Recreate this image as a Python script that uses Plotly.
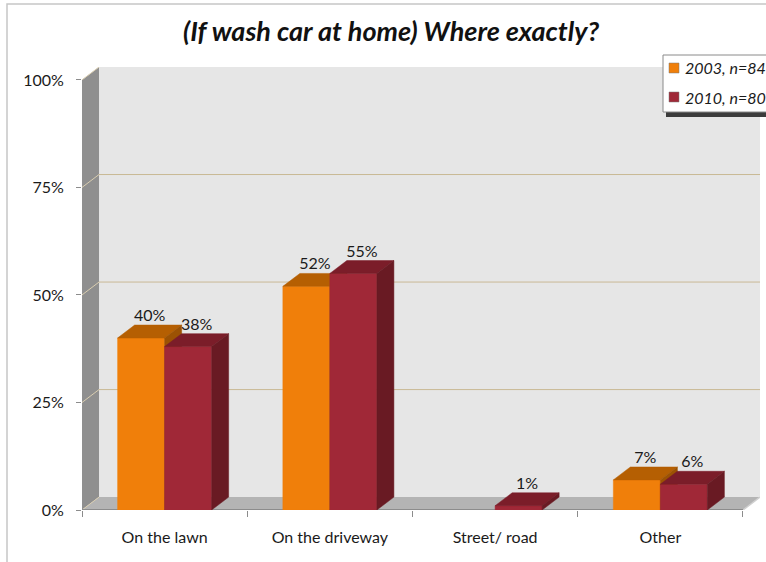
import plotly.graph_objects as go

# ---- data ----
categories = ["On the lawn", "On the driveway", "Street/ road", "Other"]
series_names = ["2003, n=84", "2010, n=80"]
values_2003 = [40, 52, None, 7]
values_2010 = [38, 55, 1, 6]
y_tick_values = [0, 25, 50, 75, 100]
y_tick_labels = ["0%", "25%", "50%", "75%", "100%"]
title_text = "(If wash car at home) Where exactly?"

# ---- styling ----
FONT = "Lato"
W, H = 766, 562
ML, MR, MT, MB = 82, 6, 67, 52
DX = 0.103      # depth offset along x (category units)
DY = 3.0        # depth offset along y (percent units)
BW = 0.2845     # bar width (category units)

front_colors = ["#F07F0A", "#A02837"]
top_colors = ["#B55F02", "#7B1D29"]
side_colors = ["#9C5203", "#691A23"]

X_MIN, X_MAX = -0.5, len(categories) - 0.5
plot_w = W - ML - MR
plot_h = H - MT - MB


def px_x(p):
    return (p - ML) / plot_w


def px_y(p):
    return (H - MB - p) / plot_h


fig = go.Figure()

series_values = [values_2003, values_2010]
offsets = [-BW, 0.0]

# 3D bars: front, top and side faces drawn back-to-front per series
for s, vals in enumerate(series_values):
    fx, fy, tx, ty, sx, sy = [], [], [], [], [], []
    for i, v in enumerate(vals):
        if v is None:
            continue
        x0 = i + offsets[s]
        x1 = x0 + BW
        fx += [x0, x1, x1, x0, x0, None]
        fy += [0, 0, v, v, 0, None]
        tx += [x0, x1, x1 + DX, x0 + DX, x0, None]
        ty += [v, v, v + DY, v + DY, v, None]
        sx += [x1, x1 + DX, x1 + DX, x1, x1, None]
        sy += [0, DY, v + DY, v, 0, None]
    for xs, ys, col in ((fx, fy, front_colors[s]),
                        (tx, ty, top_colors[s]),
                        (sx, sy, side_colors[s])):
        fig.add_trace(go.Scatter(
            x=xs, y=ys, mode="lines", fill="toself", fillcolor=col,
            line=dict(color=col, width=0.5), hoverinfo="skip",
            showlegend=False))

# value labels above each bar
for s, vals in enumerate(series_values):
    lx, ly, lt = [], [], []
    for i, v in enumerate(vals):
        if v is None:
            continue
        lx.append(i + offsets[s] + BW / 2 + DX / 2)
        ly.append(v + DY)
        lt.append(f"{v}%")
    fig.add_trace(go.Scatter(
        x=lx, y=ly, text=lt, mode="text", textposition="top center",
        textfont=dict(family=FONT, size=16, color="#1a1a1a"),
        hoverinfo="skip", showlegend=False))

# walls, floor and gridlines
shapes = []
shapes.append(dict(type="rect", xref="x", yref="y", layer="below",
                   x0=X_MIN + DX, x1=X_MAX + DX, y0=DY, y1=100 + DY,
                   fillcolor="#E6E6E6", line=dict(width=0)))
shapes.append(dict(type="path", xref="x", yref="y", layer="below",
                   path=f"M {X_MIN},0 L {X_MIN},100 L {X_MIN + DX},{100 + DY} "
                        f"L {X_MIN + DX},{DY} Z",
                   fillcolor="#8F8F8F", line=dict(width=0)))
shapes.append(dict(type="path", xref="x", yref="y", layer="below",
                   path=f"M {X_MIN},0 L {X_MAX},0 L {X_MAX + DX},{DY} "
                        f"L {X_MIN + DX},{DY} Z",
                   fillcolor="#B4B4B4", line=dict(width=0)))
for v in y_tick_values:
    shapes.append(dict(type="line", xref="x", yref="y", layer="below",
                       x0=X_MIN, y0=v, x1=X_MIN + DX, y1=v + DY,
                       line=dict(color="#D9CDB0", width=1)))
    if 0 < v < 100:
        shapes.append(dict(type="line", xref="x", yref="y", layer="below",
                           x0=X_MIN + DX, y0=v + DY, x1=X_MAX + DX, y1=v + DY,
                           line=dict(color="#C9B995", width=1)))
shapes.append(dict(type="line", xref="x", yref="y", layer="below",
                   x0=X_MAX, y0=0, x1=X_MAX + DX, y1=DY,
                   line=dict(color="#CFCFCF", width=1.5)))
shapes.append(dict(type="line", xref="x", yref="y", layer="below",
                   x0=X_MIN, y0=0, x1=X_MAX, y1=0,
                   line=dict(color="#8C8C8C", width=2)))

# outer chart border
shapes.append(dict(type="rect", xref="paper", yref="paper", layer="below",
                   x0=px_x(7), x1=px_x(W + 20), y0=px_y(H + 20), y1=px_y(4),
                   line=dict(color="#C6C6C6", width=1.5)))

# legend box with drop shadow
lg_x0, lg_y0, lg_x1, lg_y1 = 663, 55, W + 20, 112
shapes.append(dict(type="rect", xref="paper", yref="paper", layer="above",
                   x0=px_x(lg_x0 + 3), x1=px_x(lg_x1 + 3),
                   y0=px_y(lg_y1 + 5), y1=px_y(lg_y0 + 3),
                   fillcolor="#3C3C3C", line=dict(width=0)))
shapes.append(dict(type="rect", xref="paper", yref="paper", layer="above",
                   x0=px_x(lg_x0), x1=px_x(lg_x1),
                   y0=px_y(lg_y1), y1=px_y(lg_y0),
                   fillcolor="white", line=dict(color="#8A8A8A", width=1)))
annotations = []
for k, name in enumerate(series_names):
    cy = 68 + k * 29
    shapes.append(dict(type="rect", xref="paper", yref="paper", layer="above",
                       x0=px_x(669), x1=px_x(679),
                       y0=px_y(cy + 5), y1=px_y(cy - 5),
                       fillcolor=front_colors[k],
                       line=dict(color="#7a7a7a", width=0.5)))
    annotations.append(dict(xref="paper", yref="paper", x=px_x(683), y=px_y(cy),
                            xanchor="left", yanchor="middle", showarrow=False,
                            text=f"<i>{name}</i>",
                            font=dict(family=FONT, size=16, color="#1a1a1a")))

fig.update_layout(
    width=W, height=H,
    margin=dict(l=ML, r=MR, t=MT, b=MB, pad=0),
    paper_bgcolor="white", plot_bgcolor="rgba(0,0,0,0)",
    showlegend=False,
    shapes=shapes, annotations=annotations,
    title=dict(text=title_text, x=391 / W, xref="container", xanchor="center",
               y=1 - 32 / H, yref="container", yanchor="middle",
               font=dict(family=FONT, size=27, color="#111111",
                         weight="bold", style="italic")),
    xaxis=dict(range=[X_MIN, X_MAX + DX], showgrid=False, zeroline=False,
               showline=False, tickmode="array",
               tickvals=list(range(len(categories))), ticktext=categories,
               ticks="", ticklabelstandoff=16,
               tickfont=dict(family=FONT, size=16, color="#1a1a1a"),
               minor=dict(tickmode="array",
                          tickvals=[i - 0.5 for i in range(len(categories) + 1)],
                          ticks="outside", ticklen=6, tickcolor="#8C8C8C",
                          tickwidth=1, showgrid=False),
               fixedrange=True),
    yaxis=dict(range=[0, 100 + DY], showgrid=False, zeroline=False,
               showline=False, tickmode="array", tickvals=y_tick_values,
               ticktext=y_tick_labels, ticks="outside", ticklen=5,
               tickcolor="#8C8C8C", ticklabelstandoff=9,
               tickfont=dict(family=FONT, size=16, color="#1a1a1a"),
               fixedrange=True),
)

fig.write_html("out.html")
